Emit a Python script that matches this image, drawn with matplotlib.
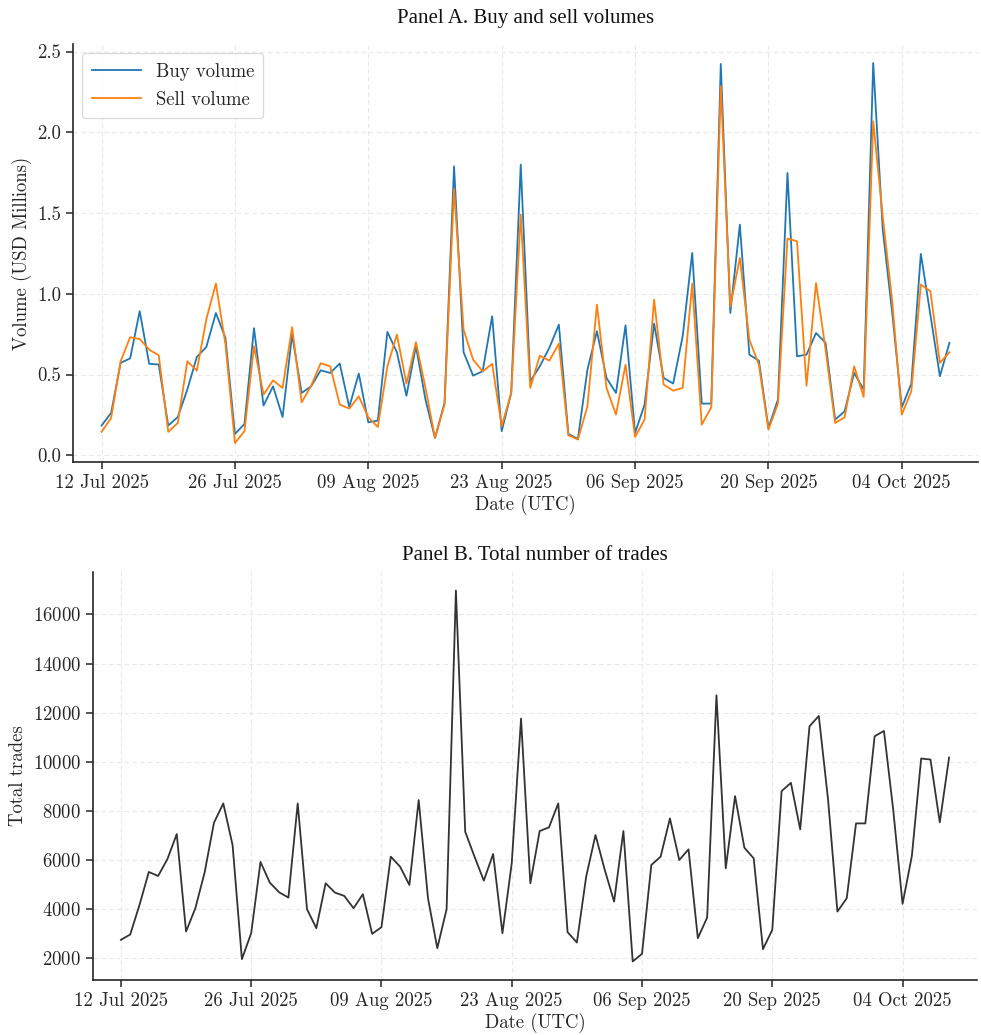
import matplotlib
matplotlib.use("Agg")
import matplotlib.pyplot as plt
import matplotlib.dates as mdates
import numpy as np
import pandas as pd

# Daily series, 12 Jul 2025 - 09 Oct 2025
dates = pd.date_range("2025-07-12", periods=90, freq="D")

buy_volume = [
    0.184, 0.262, 0.572, 0.600, 0.892, 0.566, 0.562, 0.184, 0.237, 0.407,
    0.609, 0.671, 0.881, 0.727, 0.132, 0.194, 0.787, 0.308, 0.427, 0.237,
    0.747, 0.386, 0.427, 0.526, 0.510, 0.568, 0.299, 0.506, 0.204, 0.215,
    0.764, 0.638, 0.369, 0.675, 0.345, 0.107, 0.324, 1.789, 0.638, 0.493,
    0.520, 0.861, 0.149, 0.386, 1.800, 0.458, 0.551, 0.665, 0.809, 0.132,
    0.101, 0.530, 0.768, 0.479, 0.386, 0.805, 0.138, 0.314, 0.815, 0.479,
    0.444, 0.737, 1.253, 0.320, 0.320, 2.423, 0.881, 1.428, 0.623, 0.586,
    0.169, 0.345, 1.748, 0.613, 0.623, 0.757, 0.696, 0.221, 0.272, 0.510,
    0.407, 2.429, 1.397, 0.880, 0.297, 0.444, 1.247, 0.871, 0.489, 0.696,
]

sell_volume = [
    0.145, 0.231, 0.582, 0.731, 0.720, 0.654, 0.619, 0.145, 0.200, 0.582,
    0.524, 0.844, 1.063, 0.690, 0.076, 0.149, 0.675, 0.376, 0.464, 0.417,
    0.793, 0.328, 0.430, 0.570, 0.551, 0.314, 0.289, 0.365, 0.235, 0.175,
    0.551, 0.747, 0.444, 0.700, 0.417, 0.107, 0.314, 1.649, 0.778, 0.592,
    0.520, 0.566, 0.180, 0.386, 1.490, 0.417, 0.617, 0.586, 0.691, 0.124,
    0.097, 0.303, 0.933, 0.417, 0.252, 0.561, 0.114, 0.221, 0.964, 0.438,
    0.400, 0.417, 1.063, 0.190, 0.297, 2.285, 0.920, 1.222, 0.716, 0.561,
    0.159, 0.320, 1.342, 1.325, 0.431, 1.067, 0.654, 0.200, 0.235, 0.551,
    0.361, 2.068, 1.480, 0.950, 0.252, 0.396, 1.057, 1.016, 0.572, 0.638,
]

total_trades = [
    2758, 2975, 4180, 5520, 5358, 6048, 7064, 3097, 4045, 5507,
    7524, 8310, 6617, 1973, 3029, 5927, 5087, 4694, 4478, 8310,
    4004, 3232, 5060, 4681, 4546, 4045, 4613, 3002, 3273, 6143,
    5737, 4992, 8445, 4451, 2420, 4004, 16975, 7159, 6143, 5168,
    6252, 3029, 5872, 11762, 5060, 7186, 7335, 8310, 3070, 2650,
    5331, 7024, 5602, 4316, 7186, 1878, 2190, 5805, 6143, 7700,
    6008, 6441, 2826, 3665, 12710, 5669, 8607, 6509, 6076, 2379,
    3164, 8810, 9148, 7254, 11451, 11871, 8445, 3909, 4451, 7497,
    7497, 11045, 11262, 8040, 4221, 6170, 10138, 10097, 7538, 10179,
]

plt.rcParams["axes.formatter.use_mathtext"] = True
body_font = "cmr10"
title_font = ["Liberation Serif", "DejaVu Serif"]
ink = "#262626"

fig = plt.figure(figsize=(9.81, 10.35), dpi=100)
W, H = 981, 1035


def box(left, top, right, bottom):
    return [left / W, 1 - bottom / H, (right - left) / W, (bottom - top) / H]


ax_a = fig.add_axes(box(73, 44, 978, 462))
ax_b = fig.add_axes(box(93, 572, 977, 980))

pad = pd.Timedelta(days=3)


def style(ax, title, ylabel, title_pad):
    for side in ("top", "right"):
        ax.spines[side].set_visible(False)
    for side in ("left", "bottom"):
        ax.spines[side].set_color(ink)
        ax.spines[side].set_linewidth(1.2)
    ax.grid(True, linestyle=(0, (4, 3)), color="#e8e8e8", linewidth=0.8)
    ax.set_axisbelow(True)
    ax.set_xlim(dates[0] - pad, dates[-1] + pad)
    ax.set_xticks(pd.date_range(dates[0], dates[-1], freq="14D"))
    ax.xaxis.set_major_formatter(mdates.DateFormatter("%d %b %Y"))
    ax.tick_params(axis="both", direction="out", length=5, width=1.1,
                   color=ink, labelcolor=ink, labelsize=13.5)
    for lab in ax.get_xticklabels() + ax.get_yticklabels():
        lab.set_fontfamily(body_font)
    ax.set_xlabel("Date (UTC)", fontfamily=body_font, fontsize=13.5,
                  color=ink, labelpad=2)
    ax.set_ylabel(ylabel, fontfamily=body_font, fontsize=13.5, color=ink)
    ax.set_title(title, fontfamily=title_font, fontsize=15, color="#111111",
                 pad=title_pad)


# Panel A: buy vs sell volume
ax_a.plot(dates, buy_volume, color="#1f77b4", linewidth=1.3, label="Buy volume")
ax_a.plot(dates, sell_volume, color="#ff7f0e", linewidth=1.3, label="Sell volume")
ax_a.set_yticks([0.0, 0.5, 1.0, 1.5, 2.0, 2.5])
ax_a.yaxis.set_major_formatter(matplotlib.ticker.FormatStrFormatter("%.1f"))
style(ax_a, "Panel A. Buy and sell volumes", "Volume (USD Millions)", 15)
leg = ax_a.legend(loc="upper left", prop={"family": body_font, "size": 13.5},
                  frameon=True, fancybox=True, borderpad=0.5,
                  handlelength=2.6, labelspacing=0.55)
leg.get_frame().set_edgecolor("#d0d0d0")
leg.get_frame().set_linewidth(0.9)
for t in leg.get_texts():
    t.set_color(ink)

# Panel B: total number of trades
ax_b.plot(dates, total_trades, color="#333333", linewidth=1.3)
ax_b.set_yticks(np.arange(2000, 16001, 2000))
style(ax_b, "Panel B. Total number of trades", "Total trades", 9)

fig.savefig("out.png", dpi=100)
